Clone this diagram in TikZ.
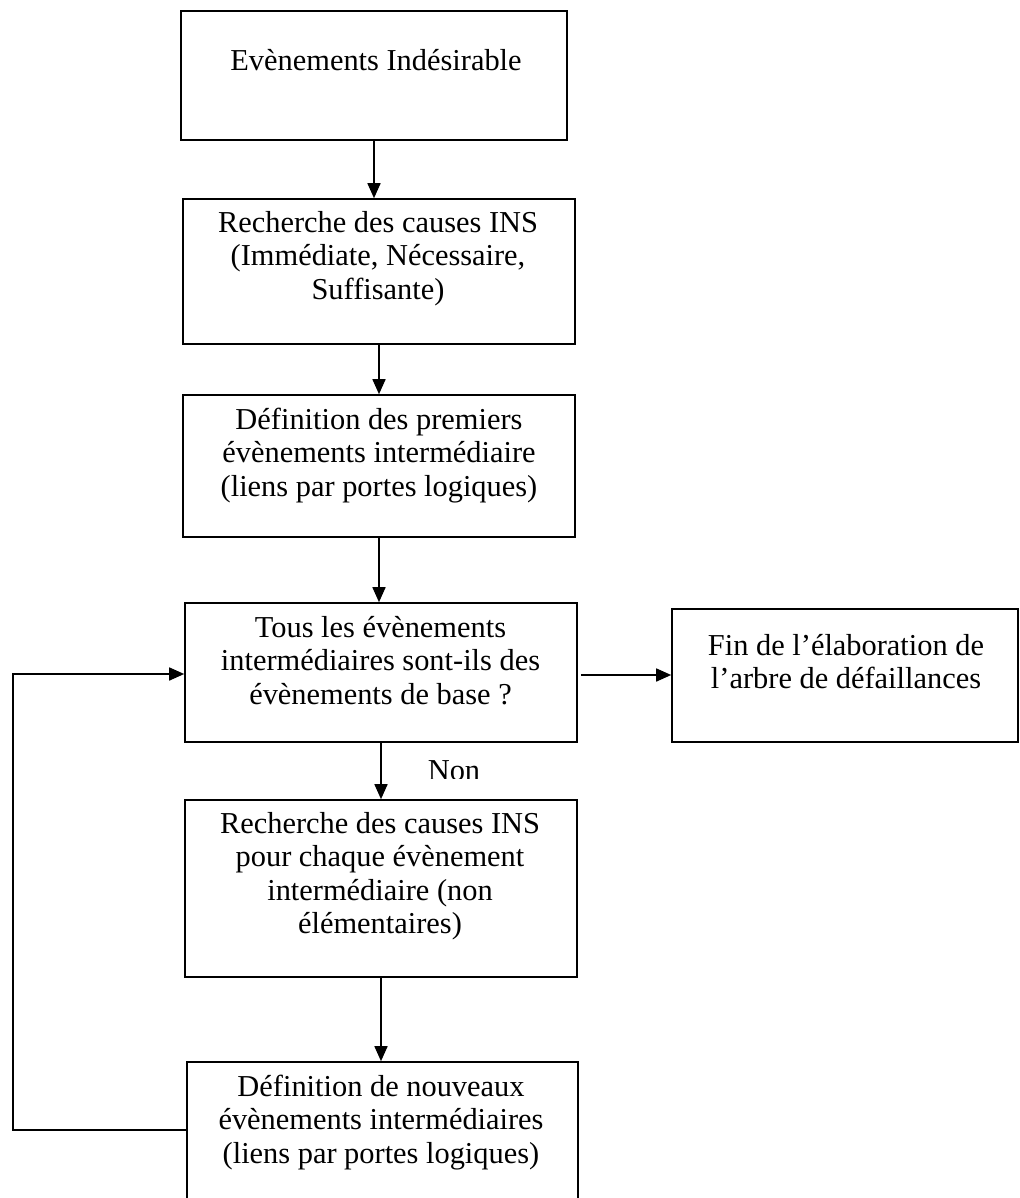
\documentclass[tikz,border=0pt]{standalone}
\usepackage{fontspec}
\setmainfont{Liberation Serif}
\usetikzlibrary{arrows.meta}

\begin{document}
\begin{tikzpicture}[x=1pt,y=-1pt,
  box/.style={draw=black,line width=1.6pt,fill=none,inner sep=0pt},
  txt/.style={anchor=north,inner sep=0pt,align=center,
              font=\fontsize{30.4}{33.5}\selectfont},
  arr/.style={draw=black,line width=1.6pt,
              -{Triangle[length=15pt,width=13pt]}}]

  % page area
  \fill[white] (0,0) rectangle (1019,1198);
  \useasboundingbox (0,0) rectangle (1019,1198);

  % process boxes
  \node[box,minimum width=386,minimum height=129] (b1) at (374,75.5) {};
  \node[box,minimum width=392,minimum height=145] (b2) at (379,271.5) {};
  \node[box,minimum width=392,minimum height=142] (b3) at (379,466) {};
  \node[box,minimum width=392,minimum height=139] (b4) at (381,672.5) {};
  \node[box,minimum width=346,minimum height=133] (b5) at (845,675.5) {};
  \node[box,minimum width=392,minimum height=177] (b6) at (381,888.5) {};
  \node[box,minimum width=391,minimum height=153] (b7) at (382.5,1138.5) {};

  % box texts
  \node[txt] (t1) at (376,46.5) {\strut Evènements Indésirable};
  \node[txt] (t2) at (378,208.5) {\strut Recherche des causes INS\\(Immédiate, Nécessaire,\\Suffisante)};
  \node[txt] (t3) at (379,405.5) {\strut Définition des premiers\\évènements intermédiaire\\(liens par portes logiques)};
  \node[txt] (t4) at (380.5,613.5) {\strut Tous les évènements\\intermédiaires sont-ils des\\évènements de base ?};
  \node[txt] (t5) at (846,631.5) {\strut Fin de l’élaboration de\\l’arbre de défaillances};
  \node[txt] (t6) at (380,809.5) {\strut Recherche des causes INS\\pour chaque évènement\\intermédiaire (non\\élémentaires)};
  \node[txt] (t7) at (381,1072.5) {\strut Définition de nouveaux\\évènements intermédiaires\\(liens par portes logiques)};

  % "Non" label, partly hidden at its foot
  \begin{scope}
    \clip (400,740) rectangle (520,778);
    \node[anchor=base,inner sep=0pt,font=\fontsize{30.4}{33.5}\selectfont] (non) at (454,780) {Non};
  \end{scope}

  % main flow
  \draw[arr] (b1.south) -- (b1.south |- b2.north);
  \draw[arr] (b2.south) -- (b2.south |- b3.north);
  \draw[arr] (b3.south) -- (b3.south |- b4.north);
  \draw[arr] (b4.south) -- (b4.south |- b6.north);
  \draw[arr] (b6.south) -- (b6.south |- b7.north);

  % exit to the end box
  \coordinate (ya) at (0,675);
  \draw[arr] ([xshift=3pt]b4.east |- ya) -- (b5.west |- ya);

  % loop back from the new events to the test
  \coordinate (lp1) at (13,1130);
  \coordinate (lp2) at (13,674);
  \draw[arr] (b7.west |- lp1) -- (lp1) -- (lp2) -- (b4.west |- lp2);
\end{tikzpicture}
\end{document}
